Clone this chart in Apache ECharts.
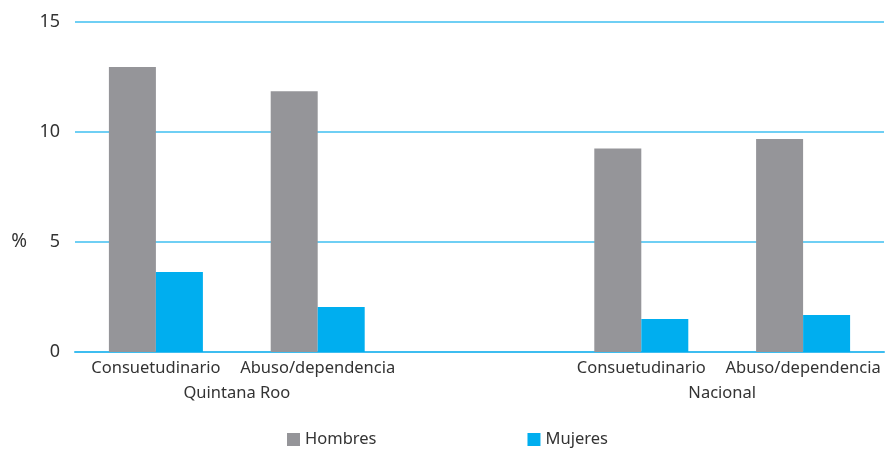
<!DOCTYPE html>
<html><head><meta charset="utf-8">
<script src="https://cdn.jsdelivr.net/npm/echarts@6/dist/echarts.min.js"></script>
<style>html,body{margin:0;padding:0;background:#fff}#c{width:887px;height:449px}</style>
</head><body><div id="c"></div>
<script>
const categories = ['Consuetudinario', 'Abuso/dependencia', '', 'Consuetudinario', 'Abuso/dependencia'];
const groupLabels = ['', '', 'Quintana Roo', '', '', '', '', '', 'Nacional', '', ''];
const hombres = [12.95, 11.85, null, 9.25, 9.68];
const mujeres = [3.64, 2.05, null, 1.5, 1.68];
const yTicks = [0, 5, 10, 15];

const font = 'Noto Sans';
const chart = echarts.init(document.getElementById('c'));
chart.setOption({
  animation: false,
  textStyle: { fontFamily: font },
  grid: { left: 75, right: 0, top: 22, bottom: 97 },
  legend: {
    top: 426, left: 282, itemWidth: 13, itemHeight: 13, itemGap: 151,
    icon: 'rect', textStyle: { fontFamily: font, fontSize: 16.5, color: '#333' },
    data: ['Hombres', 'Mujeres']
  },
  xAxis: [{
    type: 'category', data: categories,
    axisLine: { show: true, lineStyle: { color: '#3DBDF0', width: 2 } },
    axisTick: { show: false },
    axisLabel: { interval: 0, margin: 8, fontSize: 16.5, color: '#333', fontFamily: font }
  }, {
    type: 'category', data: groupLabels, position: 'bottom', boundaryGap: false, offset: 25,
    axisLine: { show: false }, axisTick: { show: false },
    axisLabel: { interval: 0, margin: 8, fontSize: 16.5, color: '#333', fontFamily: font }
  }],
  yAxis: {
    type: 'value', min: 0, max: 15, interval: 5,
    name: '\n\n\n\n\n%', nameLocation: 'middle', nameRotate: 0, nameGap: 48,
    nameTextStyle: { fontSize: 19, lineHeight: 22, color: '#333', fontFamily: font },
    axisLine: { show: false }, axisTick: { show: false },
    axisLabel: { margin: 15, fontSize: 18, color: '#333', fontFamily: font,
      formatter: v => yTicks.includes(v) ? String(v) : '' },
    splitLine: { lineStyle: { color: '#6FCFF4', width: 2 } }
  },
  series: [
    { name: 'Hombres', type: 'bar', data: hombres, barWidth: 47, barGap: '0%',
      itemStyle: { color: '#959599' } },
    { name: 'Mujeres', type: 'bar', data: mujeres, barWidth: 47, barGap: '0%',
      itemStyle: { color: '#00AEEF' } }
  ]
});
</script></body></html>
